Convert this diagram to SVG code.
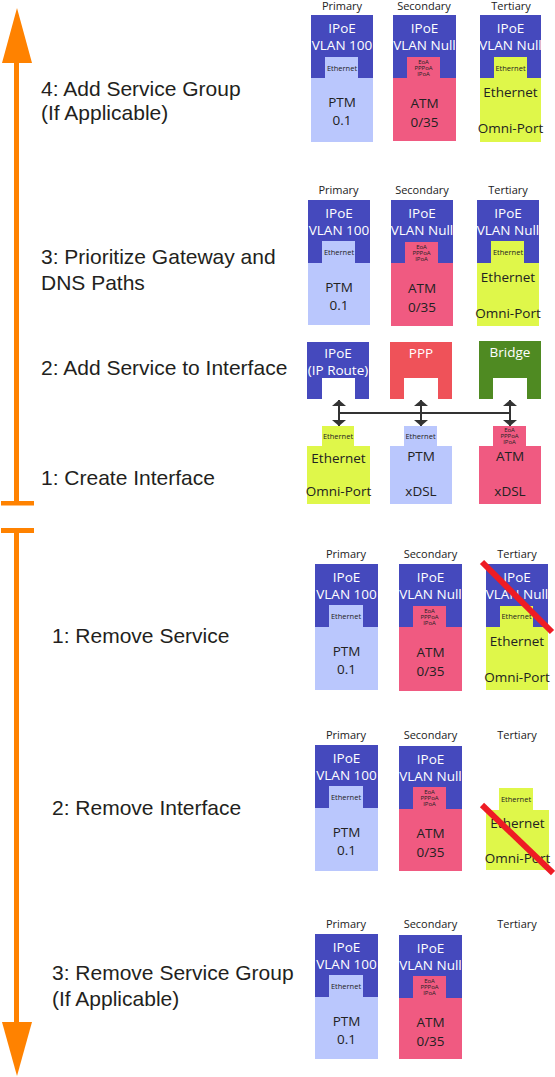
<svg xmlns="http://www.w3.org/2000/svg" width="555" height="1077" viewBox="0 0 555 1077">
<defs>
<style>
.lbl{font-family:"Liberation Sans",Arial,sans-serif;font-size:21px;fill:#231f20}
.hdr{font-family:"Open Sans","Noto Sans",sans-serif;font-size:11px;fill:#222;text-anchor:middle}
.w{font-family:"Open Sans","Noto Sans",sans-serif;font-size:13.5px;fill:#fff;text-anchor:middle}
.d{font-family:"Open Sans","Noto Sans",sans-serif;font-size:13.5px;fill:#222;text-anchor:middle}
.s{font-family:"Open Sans","Noto Sans",sans-serif;font-size:7.5px;fill:#222;text-anchor:middle}
.xs{font-family:"Open Sans","Noto Sans",sans-serif;font-size:6px;fill:#222;text-anchor:middle}
.blue{fill:#4549bd}
.lb{fill:#bac7fd}
.pk{fill:#f05a81}
.lm{fill:#dff74a}
.ppp{fill:#ef5259}
.grn{fill:#4f8a22}
.wh{fill:#fff}
.org{fill:#ff8200}
.slash{stroke:#ee1c24;stroke-width:6;fill:none}
.conn{stroke:#333;stroke-width:2;fill:none}
</style>
<marker id="ah" viewBox="0 0 6 14" refX="6" refY="7" markerWidth="6" markerHeight="14" markerUnits="userSpaceOnUse" orient="auto-start-reverse">
<path d="M0,0 L6,7 L0,14 z" fill="#333"/>
</marker>
</defs>
<rect width="555" height="1077" fill="#fff"/>

<g id="timeline">
<polygon class="org" points="17,8 2,63 32,63"/>
<rect class="org" x="14" y="60" width="5" height="443"/>
<rect class="org" x="1" y="501" width="33" height="4.5"/>
<rect class="org" x="1" y="528" width="33" height="5"/>
<rect class="org" x="14" y="530" width="5" height="495"/>
<polygon class="org" points="2,1022 32,1022 17,1076"/>
</g>

<g id="labels">
<text class="lbl" x="41" y="96">4: Add Service Group</text>
<text class="lbl" x="41" y="120">(If Applicable)</text>
<text class="lbl" x="41" y="264">3: Prioritize Gateway and</text>
<text class="lbl" x="41" y="290">DNS Paths</text>
<text class="lbl" x="41" y="375">2: Add Service to Interface</text>
<text class="lbl" x="41" y="485">1: Create Interface</text>
<text class="lbl" x="52" y="643">1: Remove Service</text>
<text class="lbl" x="52" y="815">2: Remove Interface</text>
<text class="lbl" x="52" y="980">3: Remove Service Group</text>
<text class="lbl" x="52" y="1006">(If Applicable)</text>
</g>

<g id="s4-headers">
<text class="hdr" x="342" y="10">Primary</text>
<text class="hdr" x="424" y="10">Secondary</text>
<text class="hdr" x="511" y="10">Tertiary</text>
</g>
<g id="s4-primary">
<rect class="blue" x="311" y="15" width="62" height="63"/>
<rect class="lb" x="311" y="78" width="62" height="64"/>
<rect class="lb" x="325" y="57" width="33" height="21"/>
<text class="w" x="342" y="33">IPoE</text>
<text class="w" x="342" y="50">VLAN 100</text>
<text class="s" x="342" y="70.5">Ethernet</text>
<text class="d" x="342" y="107">PTM</text>
<text class="d" x="342" y="125">0.1</text>
</g>
<g id="s4-secondary">
<rect class="blue" x="393" y="15" width="63" height="63"/>
<rect class="pk" x="393" y="78" width="63" height="63"/>
<rect class="pk" x="407" y="57" width="33" height="21"/>
<text class="w" x="424.5" y="33">IPoE</text>
<text class="w" x="424.5" y="50">VLAN Null</text>
<text class="xs" x="423.5" y="63.5">EoA</text>
<text class="xs" x="423.5" y="69.5">PPPoA</text>
<text class="xs" x="423.5" y="75.5">IPoA</text>
<text class="d" x="424.5" y="107.5">ATM</text>
<text class="d" x="424.5" y="126.5">0/35</text>
</g>
<g id="s4-tertiary">
<rect class="blue" x="480" y="15" width="61" height="63"/>
<rect class="lm" x="480" y="78" width="61" height="64"/>
<rect class="lm" x="494" y="57" width="33" height="21"/>
<text class="w" x="510.5" y="33">IPoE</text>
<text class="w" x="510.5" y="50">VLAN Null</text>
<text class="s" x="510.5" y="70.5">Ethernet</text>
<text class="d" x="510.5" y="96.5">Ethernet</text>
<text class="d" x="510.5" y="133">Omni-Port</text>
</g>

<g id="s3-headers">
<text class="hdr" x="338.5" y="194">Primary</text>
<text class="hdr" x="422" y="194">Secondary</text>
<text class="hdr" x="508" y="194">Tertiary</text>
</g>
<g id="s3-primary">
<rect class="blue" x="308" y="200" width="62" height="63"/>
<rect class="lb" x="308" y="263" width="62" height="62"/>
<rect class="lb" x="322" y="241" width="33" height="22"/>
<text class="w" x="339" y="218">IPoE</text>
<text class="w" x="339" y="235">VLAN 100</text>
<text class="s" x="339" y="255">Ethernet</text>
<text class="d" x="339" y="292">PTM</text>
<text class="d" x="339" y="310">0.1</text>
</g>
<g id="s3-secondary">
<rect class="blue" x="391" y="200" width="62" height="63"/>
<rect class="pk" x="391" y="263" width="62" height="63"/>
<rect class="pk" x="405" y="242" width="33" height="21"/>
<text class="w" x="422" y="218">IPoE</text>
<text class="w" x="422" y="235">VLAN Null</text>
<text class="xs" x="421.5" y="248.5">EoA</text>
<text class="xs" x="421.5" y="254.5">PPPoA</text>
<text class="xs" x="421.5" y="260.5">IPoA</text>
<text class="d" x="422" y="293">ATM</text>
<text class="d" x="422" y="311.5">0/35</text>
</g>
<g id="s3-tertiary">
<rect class="blue" x="477" y="200" width="62" height="63"/>
<rect class="lm" x="477" y="263" width="62" height="63"/>
<rect class="lm" x="491" y="241" width="33" height="22"/>
<text class="w" x="508" y="218">IPoE</text>
<text class="w" x="508" y="235">VLAN Null</text>
<text class="s" x="508" y="255">Ethernet</text>
<text class="d" x="508" y="282">Ethernet</text>
<text class="d" x="508" y="318">Omni-Port</text>
</g>

<g id="svc-ipoe">
<rect class="blue" x="307" y="342" width="62" height="57"/>
<rect class="wh" x="322" y="378" width="33" height="21"/>
<text class="w" x="338" y="358">IPoE</text>
<text class="w" x="338" y="374.5">(IP Route)</text>
</g>
<g id="svc-ppp">
<rect class="ppp" x="390" y="342" width="62" height="57"/>
<rect class="wh" x="404" y="378" width="34" height="21"/>
<text class="w" x="421" y="358">PPP</text>
</g>
<g id="svc-bridge">
<rect class="grn" x="479" y="341" width="62" height="58"/>
<rect class="wh" x="493" y="378" width="34" height="21"/>
<text class="w" x="510" y="357">Bridge</text>
</g>

<g id="if-ethernet">
<rect class="lm" x="322" y="426" width="32" height="20"/>
<rect class="lm" x="307" y="446" width="63" height="58"/>
<text class="s" x="338" y="439">Ethernet</text>
<text class="d" x="338.5" y="463">Ethernet</text>
<text class="d" x="338.5" y="496">Omni-Port</text>
</g>
<g id="if-ptm">
<rect class="lb" x="404" y="426" width="33" height="20"/>
<rect class="lb" x="390" y="446" width="62" height="58"/>
<text class="s" x="420.5" y="439">Ethernet</text>
<text class="d" x="421" y="461">PTM</text>
<text class="d" x="421" y="496">xDSL</text>
</g>
<g id="if-atm">
<rect class="pk" x="493" y="426" width="33" height="20"/>
<rect class="pk" x="479" y="446" width="62" height="58"/>
<text class="xs" x="509.5" y="432">EoA</text>
<text class="xs" x="509.5" y="438">PPPoA</text>
<text class="xs" x="509.5" y="444">IPoA</text>
<text class="d" x="510" y="461">ATM</text>
<text class="d" x="510" y="496">xDSL</text>
</g>

<g id="connectors">
<line class="conn" x1="339" y1="413" x2="510" y2="413"/>
<line class="conn" x1="339" y1="400" x2="339" y2="426" marker-start="url(#ah)" marker-end="url(#ah)"/>
<line class="conn" x1="421" y1="400" x2="421" y2="426" marker-start="url(#ah)" marker-end="url(#ah)"/>
<line class="conn" x1="510" y1="400" x2="510" y2="426" marker-start="url(#ah)" marker-end="url(#ah)"/>
</g>

<g id="r1-headers">
<text class="hdr" x="346" y="558">Primary</text>
<text class="hdr" x="430.5" y="558">Secondary</text>
<text class="hdr" x="517" y="558">Tertiary</text>
</g>
<g id="r1-primary">
<rect class="blue" x="315" y="564" width="63" height="63"/>
<rect class="lb" x="315" y="627" width="63" height="63"/>
<rect class="lb" x="329" y="605" width="34" height="22"/>
<text class="w" x="346.5" y="582">IPoE</text>
<text class="w" x="346.5" y="599">VLAN 100</text>
<text class="s" x="346" y="619">Ethernet</text>
<text class="d" x="346.5" y="656">PTM</text>
<text class="d" x="346.5" y="674">0.1</text>
</g>
<g id="r1-secondary">
<rect class="blue" x="399" y="564" width="63" height="63"/>
<rect class="pk" x="399" y="627" width="63" height="64"/>
<rect class="pk" x="413" y="606" width="33" height="21"/>
<text class="w" x="430.5" y="582">IPoE</text>
<text class="w" x="430.5" y="599">VLAN Null</text>
<text class="xs" x="429.5" y="612.5">EoA</text>
<text class="xs" x="429.5" y="618.5">PPPoA</text>
<text class="xs" x="429.5" y="624.5">IPoA</text>
<text class="d" x="430.5" y="657">ATM</text>
<text class="d" x="430.5" y="675.5">0/35</text>
</g>
<g id="r1-tertiary">
<rect class="blue" x="486" y="564" width="62" height="63"/>
<rect class="lm" x="486" y="627" width="62" height="63"/>
<rect class="lm" x="500" y="606" width="33" height="21"/>
<text class="w" x="517" y="582">IPoE</text>
<text class="w" x="517" y="599">VLAN Null</text>
<text class="s" x="516.5" y="619">Ethernet</text>
<text class="d" x="517" y="646">Ethernet</text>
<text class="d" x="517" y="682">Omni-Port</text>
<line class="slash" x1="482" y1="562" x2="552" y2="632"/>
</g>

<g id="r2-headers">
<text class="hdr" x="346" y="739">Primary</text>
<text class="hdr" x="430.5" y="739">Secondary</text>
<text class="hdr" x="517" y="739">Tertiary</text>
</g>
<g id="r2-primary">
<rect class="blue" x="315" y="745" width="63" height="63"/>
<rect class="lb" x="315" y="808" width="63" height="63"/>
<rect class="lb" x="329" y="786" width="34" height="22"/>
<text class="w" x="346.5" y="763">IPoE</text>
<text class="w" x="346.5" y="780">VLAN 100</text>
<text class="s" x="346" y="800">Ethernet</text>
<text class="d" x="346.5" y="837">PTM</text>
<text class="d" x="346.5" y="855">0.1</text>
</g>
<g id="r2-secondary">
<rect class="blue" x="399" y="746" width="63" height="63"/>
<rect class="pk" x="399" y="809" width="63" height="62"/>
<rect class="pk" x="413" y="787" width="33" height="22"/>
<text class="w" x="430.5" y="764">IPoE</text>
<text class="w" x="430.5" y="781">VLAN Null</text>
<text class="xs" x="429.5" y="794">EoA</text>
<text class="xs" x="429.5" y="800">PPPoA</text>
<text class="xs" x="429.5" y="806">IPoA</text>
<text class="d" x="430.5" y="838">ATM</text>
<text class="d" x="430.5" y="856.5">0/35</text>
</g>
<g id="r2-tertiary">
<rect class="lm" x="499" y="788" width="34" height="22"/>
<rect class="lm" x="486" y="810" width="63" height="60"/>
<text class="s" x="516" y="801.5">Ethernet</text>
<text class="d" x="517.5" y="828">Ethernet</text>
<text class="d" x="517.5" y="863">Omni-Port</text>
<line class="slash" x1="482" y1="805" x2="553" y2="873"/>
</g>

<g id="r3-headers">
<text class="hdr" x="346" y="928">Primary</text>
<text class="hdr" x="430.5" y="928">Secondary</text>
<text class="hdr" x="517" y="928">Tertiary</text>
</g>
<g id="r3-primary">
<rect class="blue" x="315" y="934" width="63" height="63"/>
<rect class="lb" x="315" y="997" width="63" height="62"/>
<rect class="lb" x="329" y="975" width="34" height="22"/>
<text class="w" x="346.5" y="952">IPoE</text>
<text class="w" x="346.5" y="969">VLAN 100</text>
<text class="s" x="346" y="989">Ethernet</text>
<text class="d" x="346.5" y="1026">PTM</text>
<text class="d" x="346.5" y="1044">0.1</text>
</g>
<g id="r3-secondary">
<rect class="blue" x="399" y="935" width="63" height="63"/>
<rect class="pk" x="399" y="998" width="63" height="61"/>
<rect class="pk" x="413" y="976" width="33" height="22"/>
<text class="w" x="430.5" y="953">IPoE</text>
<text class="w" x="430.5" y="970">VLAN Null</text>
<text class="xs" x="429.5" y="983">EoA</text>
<text class="xs" x="429.5" y="989">PPPoA</text>
<text class="xs" x="429.5" y="995">IPoA</text>
<text class="d" x="430.5" y="1027">ATM</text>
<text class="d" x="430.5" y="1045.5">0/35</text>
</g>
</svg>
